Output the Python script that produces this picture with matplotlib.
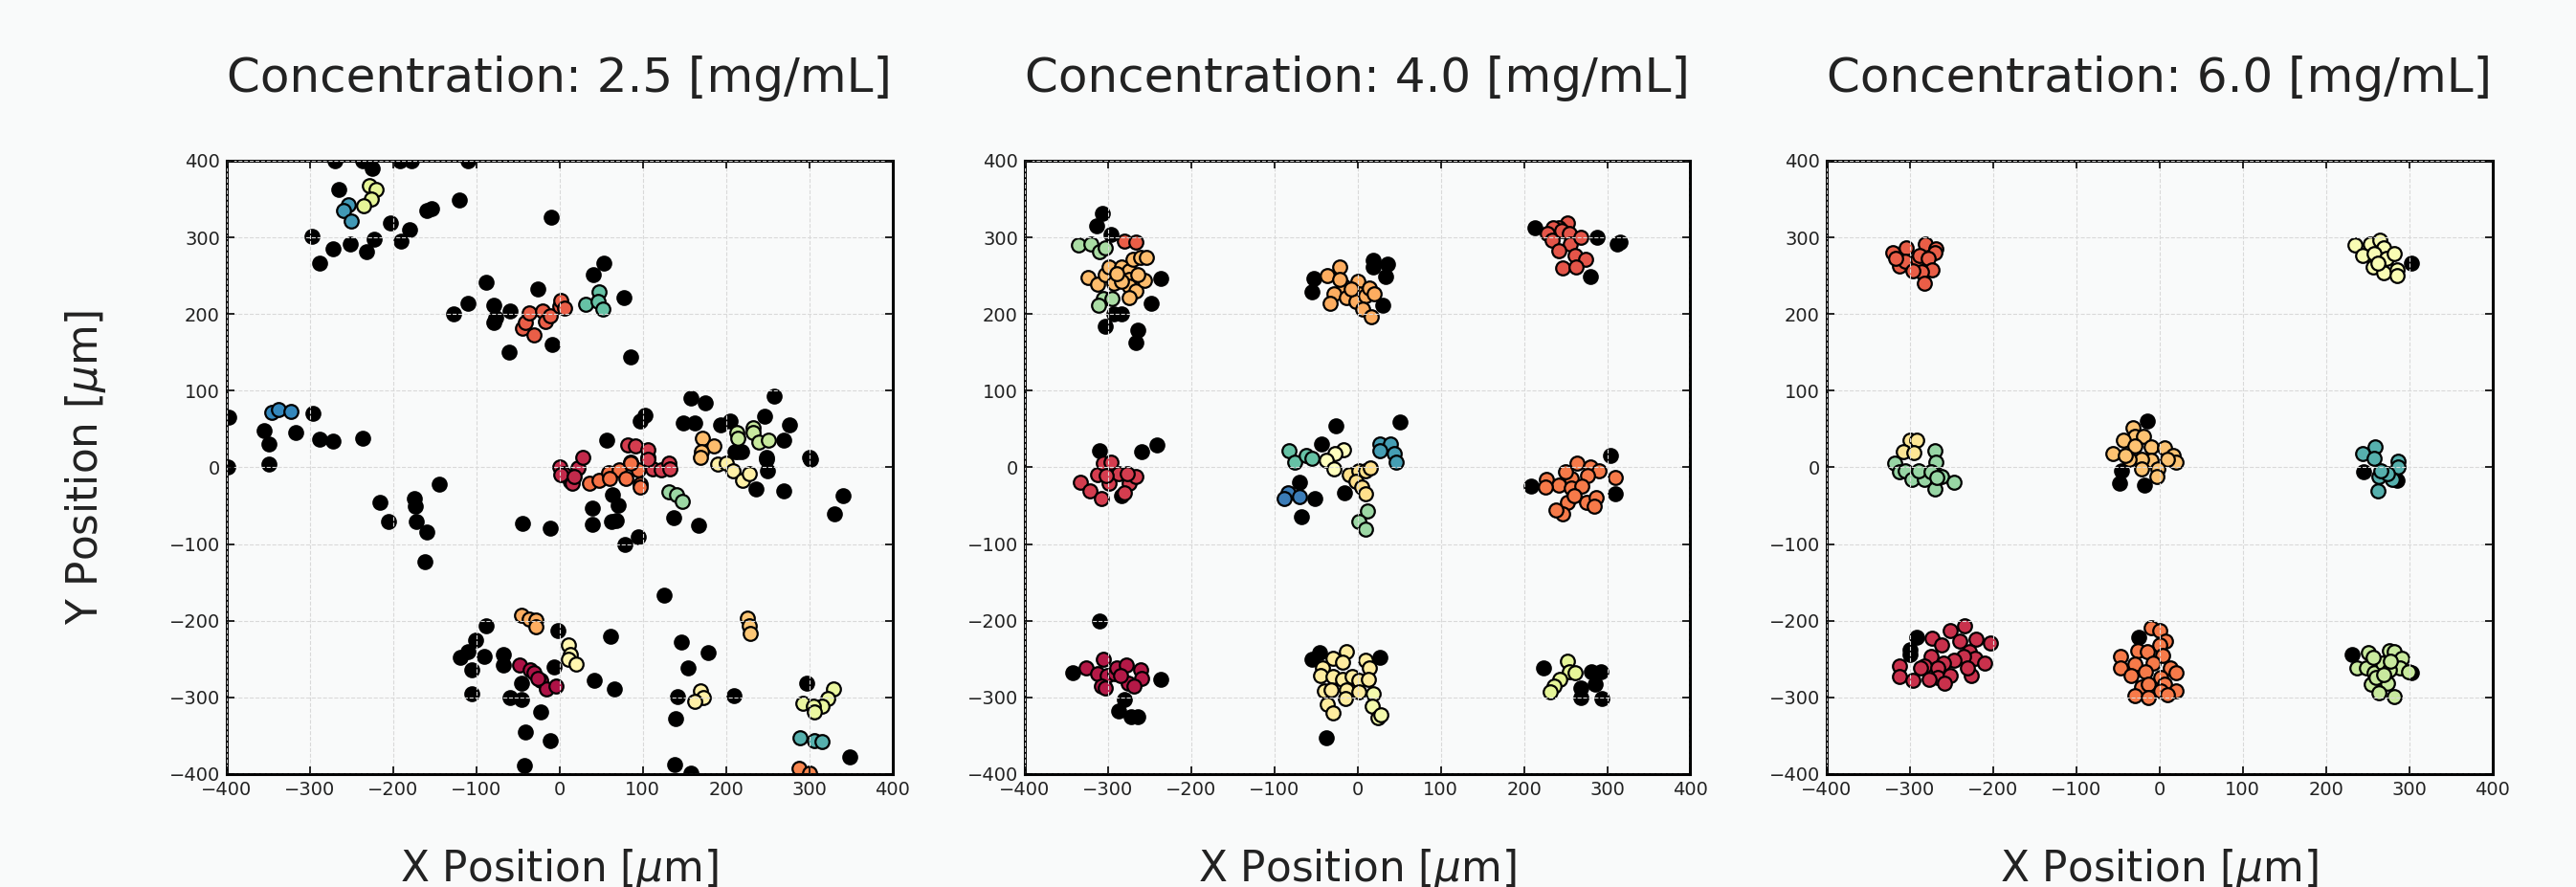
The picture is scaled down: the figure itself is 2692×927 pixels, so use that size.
import numpy as np
import matplotlib
matplotlib.use('Agg')
import matplotlib.pyplot as plt

# -- data: (x, y) in um -- #
concentrations = [2.5, 4.0, 6.0]

# unassigned (black) particles
c25_black = [(-270, 400), (-236, 400), (-225, 390), (-192, 400), (-178, 400), (-110, 400), (-265, 363),
             (-297, 301), (-288, 266), (-272, 285), (-251, 291), (-232, 282), (-223, 298), (-203, 319),
             (-191, 295), (-180, 310), (-160, 335), (-154, 337), (-120, 349), (-10, 326),
             (-88, 241), (-110, 214), (-127, 200), (-79, 212), (-79, 189), (-77, 195), (-60, 204),
             (-26, 233), (-61, 150), (-9, 160), (53, 266), (41, 251), (77, 222), (85, 144),
             (158, 91), (175, 84), (149, 58), (162, 58), (193, 56), (205, 61), (258, 93), (246, 67),
             (276, 56), (270, 36), (214, 20), (219, 20), (249, 11), (302, 11), (57, 35), (103, 68), (97, 61),
             (-398, 65), (-355, 48), (-349, 31), (-317, 45), (-296, 70), (-288, 37), (-272, 34), (-236, 38),
             (-349, 4), (-399, 0), (-145, -22), (-216, -46), (-206, -70), (-175, -40), (-173, -51),
             (-172, -70), (-160, -84), (-162, -123), (-44, -73), (-11, -79),
             (64, -35), (70, -49), (40, -53), (40, -74), (62, -70), (68, -69), (95, -91), (79, -101),
             (137, -66), (167, -75), (236, -28), (270, -31), (249, 13), (250, -4), (211, 20), (341, -37),
             (330, -61), (301, 13), (126, -167), (-88, -206), (-2, -213), (-101, -225), (-110, -240),
             (-119, -248), (-90, -247), (-68, -244), (-67, -258), (-106, -264), (-7, -260), (-106, -295),
             (-60, -300), (-46, -303), (-46, -281), (-23, -319), (-41, -345), (-11, -356), (-42, -389),
             (61, -220), (146, -228), (179, -242), (154, -262), (42, -278), (66, -289), (142, -299),
             (210, -298), (140, -328), (297, -281), (138, -388), (158, -399), (349, -378)]

c40_black = [(-307, 331), (-314, 315), (-296, 304), (-237, 246), (-248, 214), (-264, 179), (-266, 163),
             (-303, 184), (-293, 200), (-284, 200), (-310, 22), (-260, 21), (-241, 29), (-284, -37),
             (-310, -200), (-342, -268), (-236, -276), (-280, -303), (-287, -318), (-272, -325), (-264, -325),
             (-53, 246), (-55, 229), (19, 270), (36, 265), (19, 261), (34, 249), (30, 212),
             (-26, 54), (-43, 30), (51, 59), (-70, -19), (-51, -40), (-67, -64), (-16, -33),
             (-46, -241), (-55, -250), (27, -248), (-38, -353),
             (213, 312), (288, 300), (312, 292), (315, 294), (280, 249), (304, 15), (209, -24), (310, -34),
             (223, -262), (281, -266), (292, -266), (286, -283), (268, -288), (268, -300), (294, -301)]

c60_black = [(-292, -222), (-300, -238), (-300, -244), (-15, 60), (-46, -4), (-48, -21), (-18, -23),
             (-25, -221), (303, 266), (245, -6), (285, -17), (232, -244), (303, -268)]

# clustered particles: (position on Spectral colour scale, points)
c25_clusters = [
    (0.87, [(-254, 343), (-259, 335), (-250, 321)]),
    (0.90, [(-346, 72), (-338, 76), (-323, 73)]),
    (0.60, [(-228, 368), (-221, 363), (-226, 350), (-235, 341)]),
    (0.17, [(-45, 181), (-41, 189), (-36, 202), (-31, 173), (-20, 204), (-17, 190), (-11, 198),
            (0, 210), (2, 218), (6, 208)]),
    (0.80, [(47, 229), (31, 213), (46, 217), (52, 207)]),
    (0.07, [(0, 0), (5, -8), (13, -18), (2, -10), (15, -20), (22, -1), (28, 13), (18, -12)]),
    (0.21, [(36, -21), (47, -17), (59, -7), (72, -3), (60, -14), (80, -14), (85, 7), (95, -3),
            (97, -22), (97, -25), (85, 6)]),
    (0.10, [(106, 13), (112, -2), (122, -3), (131, 5), (133, -2), (82, 29), (91, 28), (106, 23), (106, 10)]),
    (0.33, [(172, 38), (186, 28), (171, 20), (169, 13)]),
    (0.65, [(233, 52), (233, 45), (213, 45), (214, 38), (240, 33), (251, 36)]),
    (0.45, [(190, 4), (201, 5), (209, -5), (220, -17), (228, -8)]),
    (0.72, [(131, -32), (141, -35), (147, -44)]),
    (0.30, [(-46, -193), (-37, -198), (-28, -199), (-28, -208)]),
    (0.03, [(-48, -258), (-35, -264), (-31, -268), (-23, -278), (-16, -289), (-4, -285), (-26, -275)]),
    (0.47, [(11, -232), (13, -244), (11, -250), (20, -256)]),
    (0.35, [(226, -197), (228, -206), (229, -217)]),
    (0.45, [(169, -292), (173, -300), (162, -305)]),
    (0.58, [(329, -289), (322, -301), (315, -312), (292, -308), (305, -312), (306, -319)]),
    (0.83, [(289, -353), (306, -356), (316, -358)]),
    (0.24, [(288, -392), (301, -399)]),
]

c40_clusters = [
    (0.17, [(-280, 295), (-266, 294)]),
    (0.70, [(-336, 290), (-321, 291), (-310, 281), (-303, 286), (-305, 220), (-295, 220), (-311, 211)]),
    (0.33, [(-324, 248), (-313, 239), (-303, 252), (-299, 261), (-293, 240), (-284, 261), (-275, 257),
            (-270, 272), (-261, 274), (-254, 274), (-274, 245), (-275, 237), (-267, 230), (-275, 222),
            (-256, 244), (-264, 251), (-284, 243), (-289, 253)]),
    (0.10, [(-333, -19), (-322, -31), (-308, -41), (-312, -10), (-305, 6), (-296, 7), (-299, -20),
            (-287, -8), (-275, -21), (-266, -12), (-277, -8), (-280, -33), (-302, -11)]),
    (0.04, [(-326, -261), (-312, -269), (-305, -250), (-301, -271), (-292, -269), (-290, -262),
            (-278, -258), (-261, -264), (-259, -275), (-276, -281), (-269, -285), (-308, -285),
            (-303, -288), (-285, -271)]),
    (0.30, [(-21, 262), (-36, 250), (-17, 237), (-21, 245), (-28, 226), (-33, 214), (-13, 221), (0, 243),
            (1, 227), (-2, 217), (9, 224), (14, 234), (20, 226), (6, 206), (16, 197), (-8, 233)]),
    (0.80, [(-82, 22), (-75, 7), (-62, 15), (-55, 12)]),
    (0.50, [(-17, 23), (-27, 18), (-38, 9), (-28, -2)]),
    (0.92, [(-84, -33), (-88, -41), (-70, -38)]),
    (0.86, [(27, 31), (39, 31), (27, 22), (44, 18), (46, 7)]),
    (0.40, [(-10, -10), (2, -4), (10, -4), (15, -1), (-2, -18), (5, -25), (10, -34)]),
    (0.72, [(12, -57), (2, -70), (9, -81)]),
    (0.44, [(-14, -240), (-30, -249), (-18, -254), (-42, -262), (-45, -271), (-29, -273), (-18, -276),
            (-6, -273), (2, -278), (10, -252), (14, -262), (13, -276), (-40, -292), (-32, -290),
            (-13, -290), (2, -293), (-15, -302), (-36, -309), (-30, -320)]),
    (0.55, [(19, -295), (18, -312), (25, -327), (28, -323)]),
    (0.15, [(252, 319), (242, 312), (235, 312), (228, 305), (234, 297), (245, 309), (254, 305),
            (256, 291), (268, 300), (242, 283), (262, 277), (274, 272), (247, 260), (263, 262)]),
    (0.22, [(264, 6), (280, 0), (290, -4), (310, -13), (276, -11), (257, -14), (227, -15), (242, -23),
            (226, -25), (257, -27), (270, -24), (252, -45), (275, -45), (287, -39), (284, -51),
            (247, -61), (239, -55), (260, -37), (250, -6)]),
    (0.60, [(252, -253), (254, -266), (262, -268), (243, -276), (236, -285), (231, -293)]),
]

c60_clusters = [
    (0.17, [(-320, 280), (-305, 286), (-282, 291), (-269, 285), (-270, 280), (-313, 263), (-306, 269),
            (-291, 271), (-288, 276), (-278, 273), (-273, 258), (-286, 255), (-283, 240), (-296, 256),
            (-317, 273)]),
    (0.42, [(-300, 35), (-292, 35), (-308, 20), (-295, 19)]),
    (0.73, [(-270, 22), (-269, 7), (-318, 5), (-313, -6), (-306, -4), (-297, -15), (-283, -15),
            (-289, -4), (-275, -6), (-270, -28), (-262, -12), (-247, -19), (-268, -13)]),
    (0.08, [(-234, -206), (-252, -213), (-273, -223), (-262, -231), (-240, -226), (-221, -224),
            (-203, -229), (-228, -240), (-222, -249), (-210, -255), (-235, -246), (-247, -252),
            (-260, -255), (-275, -246), (-283, -259), (-266, -261), (-266, -274), (-252, -272),
            (-226, -272), (-231, -261), (-313, -259), (-312, -273), (-296, -278), (-277, -276),
            (-258, -282), (-287, -262)]),
    (0.34, [(-32, 52), (-29, 40), (-19, 41), (-43, 35), (-56, 18), (-29, 28), (-10, 27), (6, 26),
            (17, 16), (20, 7), (10, 11), (-10, 9), (-22, 11), (-36, 10), (-21, -2), (-2, -2),
            (-3, -12), (-41, 16)]),
    (0.22, [(-10, -209), (0, -213), (7, -226), (0, -231), (-26, -239), (-47, -247), (-15, -240),
            (4, -245), (-29, -256), (-8, -255), (13, -261), (20, -268), (-47, -262), (-34, -271),
            (-17, -267), (2, -274), (-22, -287), (-13, -283), (6, -283), (20, -291), (-29, -298),
            (-13, -300), (2, -291), (10, -296)]),
    (0.53, [(235, 290), (253, 291), (265, 297), (269, 286), (244, 276), (258, 279), (273, 273),
            (282, 279), (257, 261), (270, 254), (285, 258), (285, 250), (262, 267)]),
    (0.83, [(259, 27), (244, 18), (258, 12), (287, 8), (287, 0), (264, -12), (280, -16), (274, -8),
            (263, -30), (266, -4)]),
    (0.65, [(251, -242), (237, -261), (249, -261), (258, -268), (254, -283), (268, -255), (276, -239),
            (282, -240), (291, -249), (289, -261), (299, -266), (276, -264), (274, -281), (264, -294),
            (282, -299), (260, -274), (277, -253), (257, -248), (270, -270)]),
]

panels = [(c25_black, c25_clusters), (c40_black, c40_clusters), (c60_black, c60_clusters)]

# -- style -- #
bg = '#f9fafa'
cmap = plt.get_cmap('Spectral')
plt.rcParams['font.family'] = 'DejaVu Sans'

fig = plt.figure(figsize=(26.92, 9.27), dpi=100, facecolor=bg)
lefts = [0.0880, 0.3978, 0.7091]

for i in range(3):
    ax = fig.add_axes([lefts[i], 0.1273, 0.2584, 0.6915], facecolor=bg)
    black, clusters = panels[i]

    bx, by = np.array(black).T
    ax.scatter(bx, by, s=110, color='k', edgecolor='k', linewidths=1.5, zorder=1)
    for val, pts in clusters:
        px, py = np.array(pts).T
        ax.scatter(px, py, s=110, color=cmap(val), edgecolor='k', linewidths=1.6, zorder=1)

    ax.set_xlim(-400, 400)
    ax.set_ylim(-400, 400)
    ax.set_xticks(np.arange(-400, 401, 100))
    ax.set_yticks(np.arange(-400, 401, 100))
    ax.set_axisbelow(False)  # grid drawn over the particles, as in the original
    ax.grid(True, ls='--', color='#d9d9d9', lw=0.8)
    ax.tick_params(direction='in', top=True, right=True, length=6, width=1.2,
                   labelsize=14, labelcolor='#222222', color='k', pad=5)
    for sp in ax.spines.values():
        sp.set_linewidth(2.2)
        sp.set_color('k')

    ax.set_title(f'Concentration: {concentrations[i]} [mg/mL]', fontsize=36, color='#222222', pad=52)
    ax.set_xlabel(r'X Position [$\mu$m]', fontsize=31.5, color='#222222', labelpad=36)
    if i == 0:
        ax.set_ylabel(r'Y Position [$\mu$m]', fontsize=31.5, color='#222222', labelpad=46)

plt.savefig('out.png', dpi=100, facecolor=bg)
plt.close('all')
